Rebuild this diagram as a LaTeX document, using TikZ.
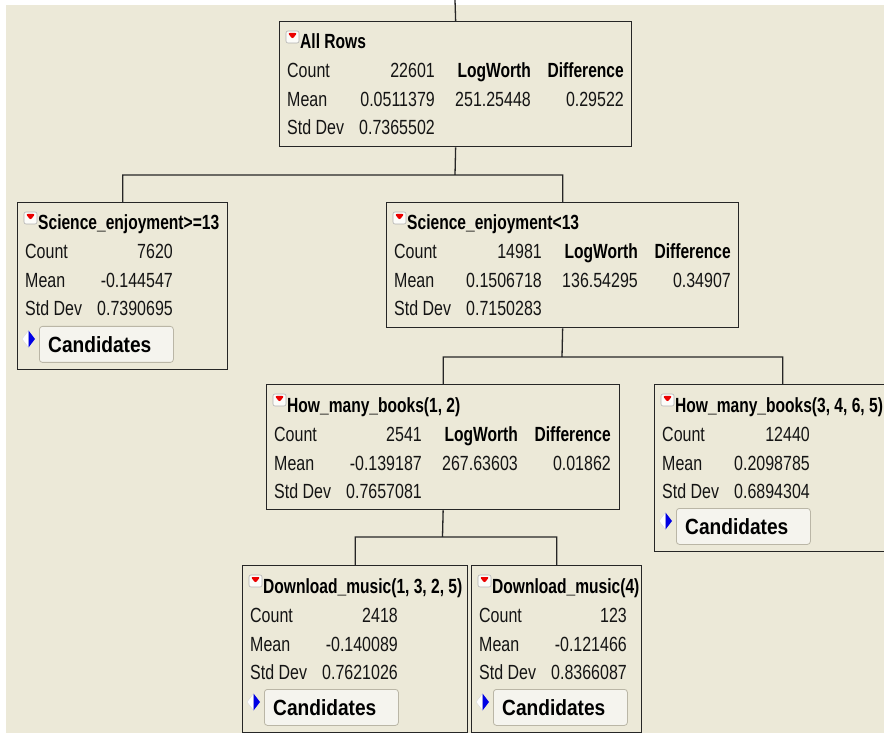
\documentclass[tikz,border=0pt]{standalone}
\usepackage{fontspec}
\usetikzlibrary{positioning}

\newfontfamily\jmpfont[FakeStretch=0.78, BoldFeatures={FakeStretch=0.76}]{Liberation Sans}
\newfontfamily\btnfont[FakeStretch=0.87]{Liberation Sans}
\newcommand{\jmp}{\jmpfont\fontsize{20.5pt}{24pt}\selectfont}
\newcommand{\jmpbtn}{\btnfont\bfseries\fontsize{22pt}{26pt}\selectfont}

\definecolor{panelbg}{RGB}{236,233,216}
\definecolor{btnfill}{RGB}{245,244,238}
\definecolor{btnedge}{RGB}{186,182,166}
\definecolor{inkline}{RGB}{38,38,38}

% title, icon and the three statistics of a panel
% #1 name, #2 left, #3 top, #4 title, #5 count, #6 mean, #7 std dev
\newcommand{\statrows}[7]{%
  \node[icon] (#1-i) at (#2+13.5,#3+16) {};
  \node[ttl] (#1-t) at (#2+21,#3+28) {#4};
  \node[lbl] (#1-c) at (#2+8,#3+57) {Count};
  \node[val] (#1-cv) at (#2+156,#3+57) {#5};
  \node[lbl] (#1-m) at (#2+8,#3+86) {Mean};
  \node[val] (#1-mv) at (#2+156,#3+86) {#6};
  \node[lbl] (#1-s) at (#2+8,#3+114) {Std Dev};
  \node[val] (#1-sv) at (#2+156,#3+114) {#7};
}
% split columns: #1 name, #2 left, #3 top, #4 logworth, #5 difference
\newcommand{\splitcols}[5]{%
  \node[hdr] (#1-lw) at (#2+252,#3+57) {LogWorth};
  \node[val] (#1-lwv) at (#2+252,#3+86) {#4};
  \node[hdr] (#1-df) at (#2+345,#3+57) {Difference};
  \node[val] (#1-dfv) at (#2+345,#3+86) {#5};
}
% candidates button: #1 name, #2 left, #3 top
\newcommand{\candbtn}[3]{%
  \node[tog] (#1-g) at (#2+11.5,#3+137) {};
  \node[btn] (#1-b) at (#2+22,#3+124) {};
  \node[cand, right=9pt of #1-b.west] (#1-bt) {Candidates};
}

\begin{document}
\begin{tikzpicture}[
  x=1pt, y=-1pt,
  panel/.style={draw=inkline, line width=1.3pt, fill=panelbg,
    anchor=north west, inner sep=0, minimum height=125pt},
  leaf/.style={panel, minimum height=167pt},
  link/.style={draw=inkline, line width=1.3pt},
  lbl/.style={anchor=base west, inner sep=0, font=\jmp, text=black!92},
  val/.style={anchor=base east, inner sep=0, font=\jmp, text=black!92},
  hdr/.style={anchor=base east, inner sep=0, font=\jmp\bfseries},
  ttl/.style={anchor=base west, inner sep=0, font=\jmp\bfseries},
  cand/.style={inner sep=0, font=\jmpbtn},
  btn/.style={draw=btnedge, fill=btnfill, line width=0.8pt,
    rounded corners=3pt, anchor=north west, inner sep=0,
    minimum width=134pt, minimum height=36pt},
  icon/.style={draw=black!30, fill=white!85!panelbg, line width=0.6pt,
    rounded corners=2pt, inner sep=0, minimum width=13pt, minimum height=12pt,
    path picture={\fill[red!92!black]
      ([shift={(1.8pt,-2pt)}]path picture bounding box.north west) --
      ([shift={(-1.8pt,-2pt)}]path picture bounding box.north east) --
      ([yshift=-8pt]path picture bounding box.north) -- cycle;}},
  tog/.style={inner sep=0, minimum width=13pt, minimum height=17pt,
    path picture={
      \filldraw[fill=white, draw=black!15]
        (path picture bounding box.west) -- (path picture bounding box.north)
        -- (path picture bounding box.south) -- cycle;
      \fill[blue!90!black]
        (path picture bounding box.north) -- (path picture bounding box.east)
        -- (path picture bounding box.south) -- cycle;}}
]
\useasboundingbox (0,0) rectangle (884,735);
\clip (0,0) rectangle (884,735);
\fill[white] (0,0) rectangle (884,735);
\fill[panelbg] (6,5) rectangle (884,733);

% panels
\node[panel, minimum width=352pt] (allrows) at (279,21) {};
\node[leaf, minimum width=210pt] (scige) at (17,202) {};
\node[panel, minimum width=352pt] (scilt) at (386,202) {};
\node[panel, minimum width=353pt] (hmb12) at (266,384) {};
\node[leaf, minimum width=256pt] (hmb3465) at (654,384) {};
\node[leaf, minimum width=225pt] (dm1325) at (242,565) {};
\node[leaf, minimum width=170pt] (dm4) at (471,565) {};

\statrows{allrows}{279}{21}{All Rows}{22601}{0.0511379}{0.7365502}
\splitcols{allrows}{279}{21}{251.25448}{0.29522}
\statrows{scige}{17}{202}{Science\_enjoyment>=13}{7620}{-0.144547}{0.7390695}
\candbtn{scige}{17}{202}
\statrows{scilt}{386}{202}{Science\_enjoyment<13}{14981}{0.1506718}{0.7150283}
\splitcols{scilt}{386}{202}{136.54295}{0.34907}
\statrows{hmb12}{266}{384}{How\_many\_books(1, 2)}{2541}{-0.139187}{0.7657081}
\splitcols{hmb12}{266}{384}{267.63603}{0.01862}
\statrows{hmb3465}{654}{384}{How\_many\_books(3, 4, 6, 5)}{12440}{0.2098785}{0.6894304}
\candbtn{hmb3465}{654}{384}
\statrows{dm1325}{242}{565}{Download\_music(1, 3, 2, 5)}{2418}{-0.140089}{0.7621026}
\candbtn{dm1325}{242}{565}
\statrows{dm4}{471}{565}{Download\_music(4)}{123}{-0.121466}{0.8366087}
\candbtn{dm4}{471}{565}

% connectors
\coordinate (rootin) at (455,0);
\coordinate (j1) at (455,175);
\coordinate (j2) at (562,357);
\coordinate (j3) at (442.5,537);
\draw[link] (rootin) -- (allrows.north);
\draw[link] (allrows.south) -- (j1) (scige.north) |- (j1) -| (scilt.north);
\draw[link] (scilt.south) -- (j2) (hmb12.north) |- (j2) -| (hmb3465.north);
\draw[link] (hmb12.south) -- (j3) (dm1325.north) |- (j3) -| (dm4.north);
\end{tikzpicture}
\end{document}
